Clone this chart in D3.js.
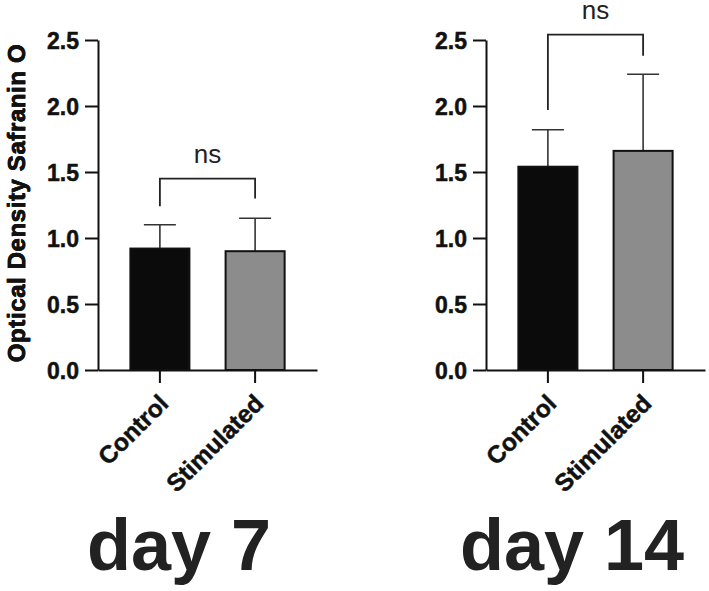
<!DOCTYPE html>
<html>
<head>
<meta charset="utf-8">
<script src="https://cdn.jsdelivr.net/npm/d3@7"></script>
<style>
  body { margin: 0; background: #fff; }
  text { font-family: "Liberation Sans", Arial, Helvetica, sans-serif; }
  .negrita { font-weight: bold; stroke: #111; stroke-width: 0.5px; }
</style>
</head>
<body>
<div id="graf"></div>
<script>
// Datos
const grupos = ["Control", "Stimulated"]
const colores = ["#0b0b0b", "#8c8c8c"]
const yTicks = [0, 0.5, 1.0, 1.5, 2.0, 2.5]

const dia7Medias = [0.92, 0.90]
const dia7SD = [0.18, 0.25]
const dia14Medias = [1.54, 1.66]
const dia14SD = [0.28, 0.58]

// corchete "ns": [altura, pata izquierda, pata derecha]
const dia7Corchete = [1.45, 1.24, 1.30]
const dia14Corchete = [2.54, 1.97, 2.38]

const titulos = ["day 7", "day 14"]
const etiquetaY = "Optical Density Safranin O"

// Dimensiones
const anchoTotal = 709
const altoTotal = 591
const ancho = 219
const alto = 330

const svg = d3
  .select("#graf")
  .append("svg")
  .attr("width", anchoTotal)
  .attr("height", altoTotal)

const y = d3.scaleLinear().domain([0, 2.5]).range([alto, 0])
const x = d3
  .scaleBand()
  .domain(grupos)
  .range([0, ancho])
  .paddingInner(0.38)
  .paddingOuter(0.34)

const panel = (left, medias, sd, corchete, titulo, tituloX) => {
  const g = svg.append("g").attr("transform", `translate(${left}, 40)`)

  // Eje Y
  const yAxis = d3
    .axisLeft(y)
    .tickValues(yTicks)
    .tickSize(13)
    .tickSizeOuter(0)
    .tickPadding(6)
    .tickFormat(d3.format(".1f"))
  const yg = g.append("g").call(yAxis)
  yg.selectAll("path, line").attr("stroke", "#111").attr("stroke-width", 2)
  yg.selectAll("text")
    .attr("fill", "#111")
    .classed("negrita", true)
    .style("font-size", "23px")
    .attr("dy", "0.36em")

  // Etiqueta Y
  g.append("text")
    .attr("transform", `translate(${25 - left}, ${alto / 2 - 2}) rotate(-90)`)
    .attr("text-anchor", "middle")
    .attr("fill", "#111")
    .classed("negrita", true)
    .style("font-size", "24px")
    .style("letter-spacing", "0.6px")
    .text(etiquetaY)

  const datos = grupos.map((d, i) => ({ grupo: d, media: medias[i], sd: sd[i], color: colores[i] }))

  // Barras de error (solo hacia arriba)
  const err = g.selectAll(".err").data(datos).enter().append("g").attr("class", "err")
  err.append("line")
    .attr("x1", (d) => x(d.grupo) + x.bandwidth() / 2)
    .attr("x2", (d) => x(d.grupo) + x.bandwidth() / 2)
    .attr("y1", (d) => y(d.media))
    .attr("y2", (d) => y(d.media + d.sd))
    .attr("stroke", "#333")
    .attr("stroke-width", 1.6)
  err.append("line")
    .attr("x1", (d) => x(d.grupo) + x.bandwidth() / 2 - 16)
    .attr("x2", (d) => x(d.grupo) + x.bandwidth() / 2 + 16)
    .attr("y1", (d) => y(d.media + d.sd))
    .attr("y2", (d) => y(d.media + d.sd))
    .attr("stroke", "#333")
    .attr("stroke-width", 1.6)

  // Barras
  g.selectAll(".bar")
    .data(datos)
    .enter()
    .append("rect")
    .attr("class", "bar")
    .attr("x", (d) => x(d.grupo))
    .attr("y", (d) => y(d.media))
    .attr("width", x.bandwidth())
    .attr("height", (d) => alto - y(d.media))
    .attr("fill", (d) => d.color)
    .attr("stroke", "#111")
    .attr("stroke-width", 2)

  // Eje X
  const xAxis = d3.axisBottom(x).tickSize(13).tickSizeOuter(0)
  const xg = g.append("g").attr("transform", `translate(0, ${alto})`).call(xAxis)
  xg.selectAll("path, line").attr("stroke", "#111").attr("stroke-width", 2)
  xg.selectAll("text")
    .attr("fill", "#111")
    .classed("negrita", true)
    .style("font-size", "24.5px")
    .attr("text-anchor", "end")
    .attr("x", 0)
    .attr("y", 0)
    .attr("dy", 0)
    .attr("transform", "translate(10, 35) rotate(-45)")

  // Corchete ns
  const cx1 = x(grupos[0]) + x.bandwidth() / 2
  const cx2 = x(grupos[1]) + x.bandwidth() / 2
  g.append("path")
    .attr("d", d3.line()([
      [cx1, y(corchete[1])],
      [cx1, y(corchete[0])],
      [cx2, y(corchete[0])],
      [cx2, y(corchete[2])],
    ]))
    .attr("fill", "none")
    .attr("stroke", "#222")
    .attr("stroke-width", 1.8)
  g.append("text")
    .attr("x", (cx1 + cx2) / 2)
    .attr("y", y(corchete[0]) - 16)
    .attr("text-anchor", "middle")
    .attr("fill", "#222")
    .style("font-size", "26px")
    .text("ns")

  // Titulo
  svg.append("text")
    .attr("x", tituloX)
    .attr("y", 570)
    .attr("text-anchor", "middle")
    .attr("fill", "#222")
    .style("font-size", "72px")
    .style("font-weight", "bold")
    .text(titulo)
}

panel(98, dia7Medias, dia7SD, dia7Corchete, titulos[0], 179)
panel(486, dia14Medias, dia14SD, dia14Corchete, titulos[1], 572)
</script>
</body>
</html>
